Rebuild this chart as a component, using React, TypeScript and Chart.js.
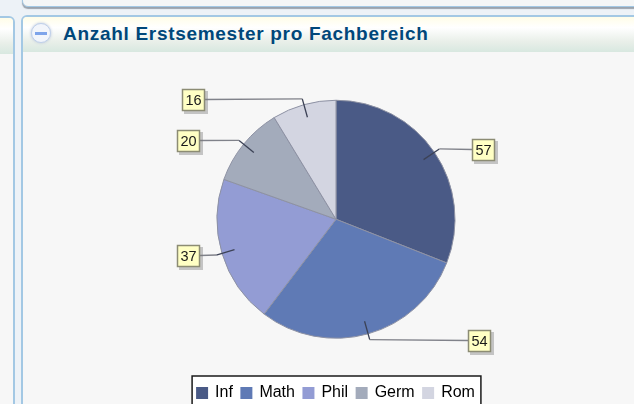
import React, { useEffect, useRef } from "react";
import { Chart, registerables } from "chart.js";

Chart.register(...registerables);

const categories = ["Inf", "Math", "Phil", "Germ", "Rom"];
const values = [57, 54, 37, 20, 16];
const colors = ["#4a5a86", "#5f7ab5", "#939cd4", "#a3abbb", "#d3d5e1"];
const titleText = "Anzahl Erstsemester pro Fachbereich";

const FONT = '"Liberation Sans", Arial, sans-serif';

const legendFrame = {
  id: "legendFrame",
  beforeDraw(chart: any) {
    const boxes = chart.legend?.legendHitBoxes;
    if (!boxes?.length) return;
    const left = boxes[0].left - 5;
    const last = boxes[boxes.length - 1];
    const right = last.left + last.width + 6;
    const top = boxes[0].top - 9;
    const { ctx } = chart;
    ctx.save();
    ctx.fillStyle = "#ffffff";
    ctx.strokeStyle = "#1a1a1a";
    ctx.lineWidth = 1.5;
    ctx.fillRect(left, top, right - left, 60);
    ctx.strokeRect(left, top, right - left, 60);
    ctx.restore();
  },
};

const callouts = {
  id: "callouts",
  afterDatasetsDraw(chart: any) {
    const { ctx } = chart;
    const arcs = chart.getDatasetMeta(0).data;
    arcs.forEach((arc: any, i: number) => {
      const mid = (arc.startAngle + arc.endAngle) / 2;
      const r = arc.outerRadius;
      const ax = arc.x + Math.cos(mid) * r * 0.89;
      const ay = arc.y + Math.sin(mid) * r * 0.89;
      const ex = arc.x + Math.cos(mid) * r * 1.05;
      const ey = arc.y + Math.sin(mid) * r * 1.05;
      const right = Math.cos(mid) > 0;
      const w = 23;
      const h = 22;
      // the boxes sit at a fixed distance from the pie on each side
      const below = Math.sin(mid) > 0.9;
      const upperLeft = !right && Math.sin(mid) < -0.9;
      const bx = right ? (below ? arc.x + 132 : arc.x + 136) : upperLeft ? arc.x - 154 : arc.x - 159;
      const lineEnd = right ? bx : bx + w;
      ctx.save();
      ctx.strokeStyle = "#3c4256";
      ctx.lineWidth = 1.3;
      ctx.beginPath();
      ctx.moveTo(ax, ay);
      ctx.lineTo(ex, ey);
      ctx.stroke();
      ctx.strokeStyle = "#80828a";
      ctx.beginPath();
      ctx.moveTo(ex, ey);
      ctx.lineTo(lineEnd, Math.round(ey) + 0.5);
      ctx.stroke();
      const by = Math.round(ey) - 10;
      ctx.fillStyle = "rgba(120,120,120,0.4)";
      ctx.fillRect(bx + 2, by + 2, w + 1, h + 1);
      ctx.fillStyle = "#ffffc4";
      ctx.fillRect(bx, by, w, h);
      ctx.strokeStyle = "#8c8c74";
      ctx.lineWidth = 1.5;
      ctx.strokeRect(bx + 0.5, by + 0.5, w - 1, h - 1);
      ctx.fillStyle = "#1a1a1a";
      ctx.font = `14.5px ${FONT}`;
      ctx.textAlign = "center";
      ctx.textBaseline = "middle";
      ctx.fillText(String(values[i]), bx + w / 2, by + h / 2 + 0.5);
      ctx.restore();
    });
  },
};

export default function App() {
  const ref = useRef<HTMLCanvasElement>(null);

  useEffect(() => {
    document.body.style.margin = "0";
    document.body.style.overflow = "hidden";
    const chart = new Chart(ref.current as HTMLCanvasElement, {
      type: "pie",
      data: {
        labels: categories,
        datasets: [
          {
            data: values,
            backgroundColor: colors,
            borderColor: "#8d91a3",
            borderWidth: 1,
            radius: 119,
          },
        ],
      },
      options: {
        responsive: false,
        animation: false,
        layout: { padding: { left: 38, right: 0, top: 62, bottom: 0 } },
        plugins: {
          title: { display: false },
          tooltip: { enabled: false },
          legend: {
            display: true,
            position: "bottom",
            labels: {
              boxWidth: 10,
              boxHeight: 10,
              padding: 8.5,
              color: "#222222",
              font: { family: FONT, size: 16 },
              generateLabels: () =>
                categories.map((text, i) => ({
                  text,
                  fillStyle: colors[i],
                  strokeStyle: colors[i],
                  lineWidth: 2,
                  index: i,
                  hidden: false,
                })),
            },
          },
        },
      },
      plugins: [legendFrame, callouts],
    } as any);
    return () => chart.destroy();
  }, []);

  return (
    <div style={{ position: "relative", width: 634, height: 404, overflow: "hidden", background: "#edf2f7" }}>
      {/* neighbouring panels */}
      <div style={{ position: "absolute", left: 22, top: -12, width: 640, height: 17, borderRadius: 6, border: "1.5px solid #a3c8e4", background: "#f4f6f6", boxShadow: "0 2px 1px #9aa3ad" }} />
      <div style={{ position: "absolute", left: -20, top: 16, width: 31, height: 420, borderRadius: 6, border: "2px solid #a3c8e4", background: "#f7f7f7", overflow: "hidden" }}>
        <div style={{ height: 36, background: "linear-gradient(#fffde8 0%, #ffffff 30%, #e9efe9 70%, #d8e8e0 100%)" }} />
      </div>
      {/* main panel */}
      <div style={{ position: "absolute", left: 21, top: 15, width: 640, height: 420, borderRadius: 6, border: "2px solid #a3c8e4", background: "#f7f7f7", overflow: "hidden" }}>
        <div style={{ height: 35, background: "linear-gradient(#fffde8 0%, #ffffff 30%, #e9efe9 70%, #d8e8e0 100%)" }} />
      </div>
      <div style={{ position: "absolute", left: 31, top: 23, width: 18, height: 18, borderRadius: "50%", border: "1.5px solid #bfd0ea", background: "#f2f5fb", boxShadow: "0 0 3px #b5c2da" }}>
        <div style={{ position: "absolute", left: 3, top: 7.5, width: 12, height: 3, background: "#7ea4ea" }} />
      </div>
      <div style={{ position: "absolute", left: 63, top: 23, font: `bold 19px ${FONT}`, letterSpacing: "0.7px", color: "#00477a", whiteSpace: "nowrap" }}>
        {titleText}
      </div>
      <canvas ref={ref} width={634} height={411} style={{ position: "absolute", left: 0, top: 0, display: "block" }} />
    </div>
  );
}
